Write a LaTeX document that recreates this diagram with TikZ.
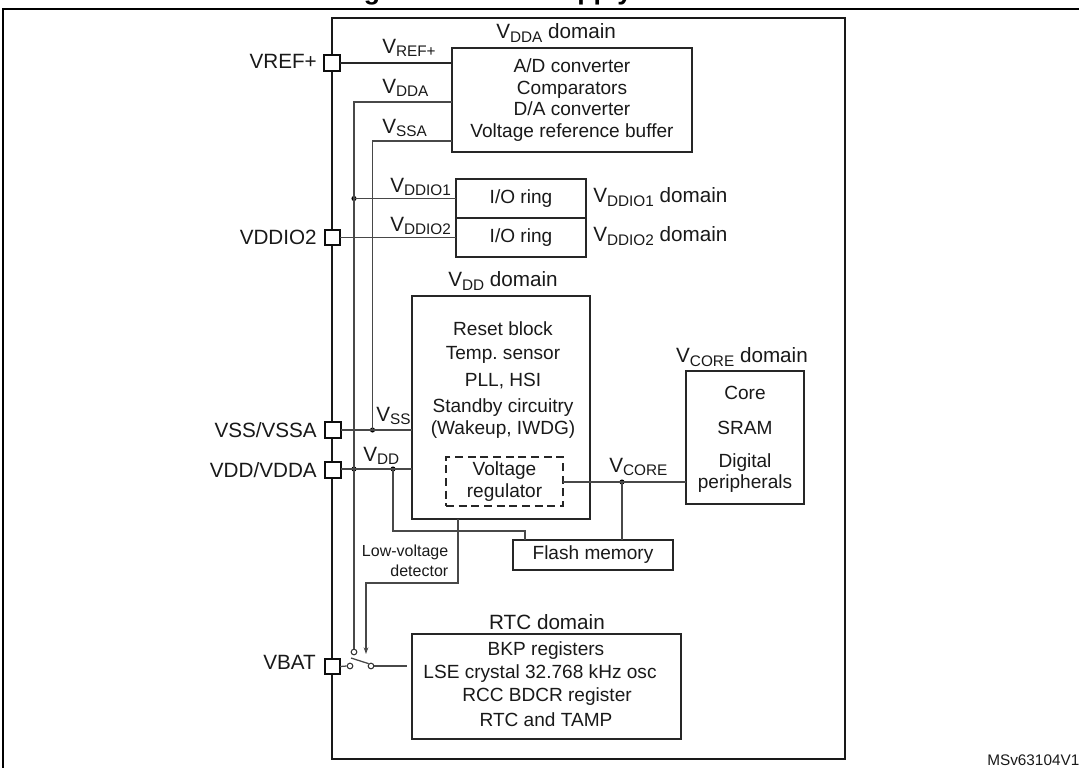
\documentclass[tikz,border=0pt]{standalone}
\usepackage{fontspec}
\setmainfont{Liberation Sans}
\usetikzlibrary{arrows.meta}
\definecolor{wire}{HTML}{484848}
\newcommand\sbs[1]{\raisebox{-.32ex}{\fontsize{11.5}{11.5}\selectfont #1}}
\tikzset{
  x=.75pt,y=-.75pt,
  lbl/.style={inner sep=0pt,font=\fontsize{15.5}{18}\selectfont,text=black!90},
  body/.style={inner sep=0pt,align=center,font=\fontsize{14.3}{16.2}\selectfont,text=black!90},
  boxst/.style={draw=black!85,line width=.9pt,inner sep=0pt,outer sep=0pt,anchor=north west,align=center,font=\fontsize{14.3}{16.2}\selectfont,text=black!90},
  pinbox/.style={draw=black!95,line width=1.5pt,fill=white,inner sep=0pt,outer sep=0pt,minimum width=11.5pt,minimum height=11.5pt},
  wireline/.style={draw=wire,line width=.95pt},
  blackline/.style={draw=black!85,line width=.8pt},
  dotj/.style={circle,fill=black,inner sep=0pt,minimum size=3.8pt},
  contact/.style={circle,draw=black!80,fill=white,line width=.8pt,inner sep=0pt,minimum size=4.2pt},
}
\begin{document}
\frenchspacing
\begin{tikzpicture}
\useasboundingbox (0,0) rectangle (1079,768);
% page frame
\coordinate (ftl) at (3,9);
\coordinate (ftr) at (1079,9);
\coordinate (fbl) at (3,768);
\draw[black,line width=1pt] (fbl) -- (ftl) -- (ftr);
\node[inner sep=0pt,anchor=base west,font=\fontsize{20}{24}\bfseries\selectfont] (title) at (340,-1) {Figure 8. Power supply overview};
% chip
\node[draw=black!90,line width=1.4pt,inner sep=0pt,outer sep=0pt,anchor=north west,minimum width=384.5pt*1,minimum height=555.75pt] (chip) at (332,18) {};
% domains
\node[boxst,minimum width=180pt,minimum height=78pt] (adc) at (452,48) {A/D converter\\Comparators\\D/A converter\\Voltage reference buffer};
\node[boxst,minimum width=97.5pt,minimum height=29.25pt] (io1) at (456,179) {I/O ring};
\node[boxst,minimum width=97.5pt,minimum height=29.25pt] (io2) at (456,218) {I/O ring};
\node[boxst,minimum width=133.5pt,minimum height=167.25pt] (vddb) at (412,296) {};
\node[boxst,dashed,dash pattern=on 6pt off 3.5pt,minimum width=87.75pt,minimum height=36.75pt] (reg) at (446,457) {Voltage\\regulator};
\node[boxst,minimum width=88.5pt,minimum height=99.75pt] (core) at (686,371) {};
\node[boxst,minimum width=120pt,minimum height=22.5pt] (flash) at (513,540) {Flash memory};
\node[boxst,minimum width=201.75pt,minimum height=78.75pt] (rtc) at (412,634) {};
% body texts
\node[body] (t1) at (503,329) {Reset block};
\node[body] (t2) at (503,355) {Temp. sensor};
\node[body] (t3) at (503,381) {PLL, HSI};
\node[body] (t4) at (503,418.5) {Standby circuitry\\(Wakeup, IWDG)};
\node[body] (c1) at (745,393) {Core};
\node[body] (c2) at (745,428) {SRAM};
\node[body] (c3) at (745,473) {Digital\\peripherals};
\node[body] (r1) at (546,651) {BKP registers};
\node[body] (r2) at (540,674) {LSE crystal 32.768 kHz osc};
\node[body] (r3) at (547,697) {RCC BDCR register};
\node[body] (r4) at (546,720) {RTC and TAMP};
% junctions
\node[dotj] (dio) at (354,198.5) {};
\node[dotj] (dss) at (372.5,430) {};
\node[dotj] (ddd1) at (354,469) {};
\node[dotj] (ddd2) at (393,469) {};
\node[dotj] (dcore) at (622,482) {};
% switch
\node[contact] (sw1) at (354,652) {};
\node[contact] (sw2) at (350,666) {};
\node[contact] (sw3) at (371,666) {};
\coordinate (swtop) at (351,658);
\coordinate (rtcin) at (407,666);
\coordinate (ldv) at (366,654);
% pins
\node[pinbox] (pref) at (332,63) {};
\node[pinbox] (pio) at (332.5,237.5) {};
\node[pinbox] (pss) at (333,430) {};
\node[pinbox] (pdd) at (333,470) {};
\node[pinbox] (pbat) at (332.5,666.5) {};
% wires
\draw[blackline] (pref.east) -- (adc.west |- pref);
\draw[wireline] (adc.west |- 0,102) -- (354,102) -- (sw1.north);
\draw[wireline] (adc.west |- 0,141) -- (372.5,141) -- (dss.center);
\draw[wireline] (dio.center) -- (io1.west |- dio);
\draw[wireline] (pio.east) -- (io2.west |- pio);
\draw[wireline] (pss.east) -- (vddb.west |- pss);
\draw[wireline] (pdd.east |- ddd1) -- (vddb.west |- ddd1);
\draw[wireline] (ddd2.center) -- (393,531) -- (525,531) -- (flash.north west -| 525,0);
\draw[wireline] (reg.east |- dcore) -- (core.west |- dcore);
\draw[wireline] (dcore.center) -- (flash.north -| dcore);
\draw[wireline,-{Stealth[length=5pt,width=3.5pt]}] (vddb.south -| 458,0) -- (458,583) -- (366,583) -- (ldv);
\draw[wireline] (pbat.east) -- (sw2.west);
\draw[wireline] (swtop) -- (sw3.north west);
\draw[wireline,line width=1.1pt] (sw3.east) -- (rtcin);
% pin labels
\node[lbl,anchor=east] (lref) at (317,61.5) {VREF+};
\node[lbl,anchor=east] (lio) at (317,237) {VDDIO2};
\node[lbl,anchor=east] (lss) at (317,430) {VSS/VSSA};
\node[lbl,anchor=east] (ldd) at (317,470) {VDD/VDDA};
\node[lbl,anchor=east] (lbat) at (316,662) {VBAT};
% net labels
\node[lbl,anchor=west] (n1) at (382,48) {V\sbs{REF+}};
\node[lbl,anchor=west] (n2) at (382,88) {V\sbs{DDA}};
\node[lbl,anchor=west] (n3) at (382,128) {V\sbs{SSA}};
\node[lbl,anchor=west] (n4) at (390,187) {V\sbs{DDIO1}};
\node[lbl,anchor=west] (n5) at (390,226) {V\sbs{DDIO2}};
\node[lbl,anchor=west] (n6) at (376,416) {V\sbs{SS}};
\node[lbl,anchor=west] (n7) at (363,456) {V\sbs{DD}};
\node[lbl,anchor=west] (n8) at (609,467) {V\sbs{CORE}};
% domain labels
\node[lbl,anchor=west] (d1) at (496,33) {V\sbs{DDA} domain};
\node[lbl,anchor=west] (d2) at (593,197) {V\sbs{DDIO1} domain};
\node[lbl,anchor=west] (d3) at (593,236) {V\sbs{DDIO2} domain};
\node[lbl,anchor=center] (d4) at (503,281) {V\sbs{DD} domain};
\node[lbl,anchor=center] (d5) at (742,357) {V\sbs{CORE} domain};
\node[lbl,anchor=center] (d6) at (547,622) {RTC domain};
% detector
\node[inner sep=0pt,align=right,anchor=east,font=\fontsize{12}{14.7}\selectfont,text=black!90] (lvd) at (448.5,561) {Low-voltage\\detector};
% ref
\node[inner sep=0pt,anchor=west,font=\fontsize{11.5}{14}\selectfont,text=black!90] (msv) at (987,760) {MSv63104V1};
\end{tikzpicture}
\end{document}
